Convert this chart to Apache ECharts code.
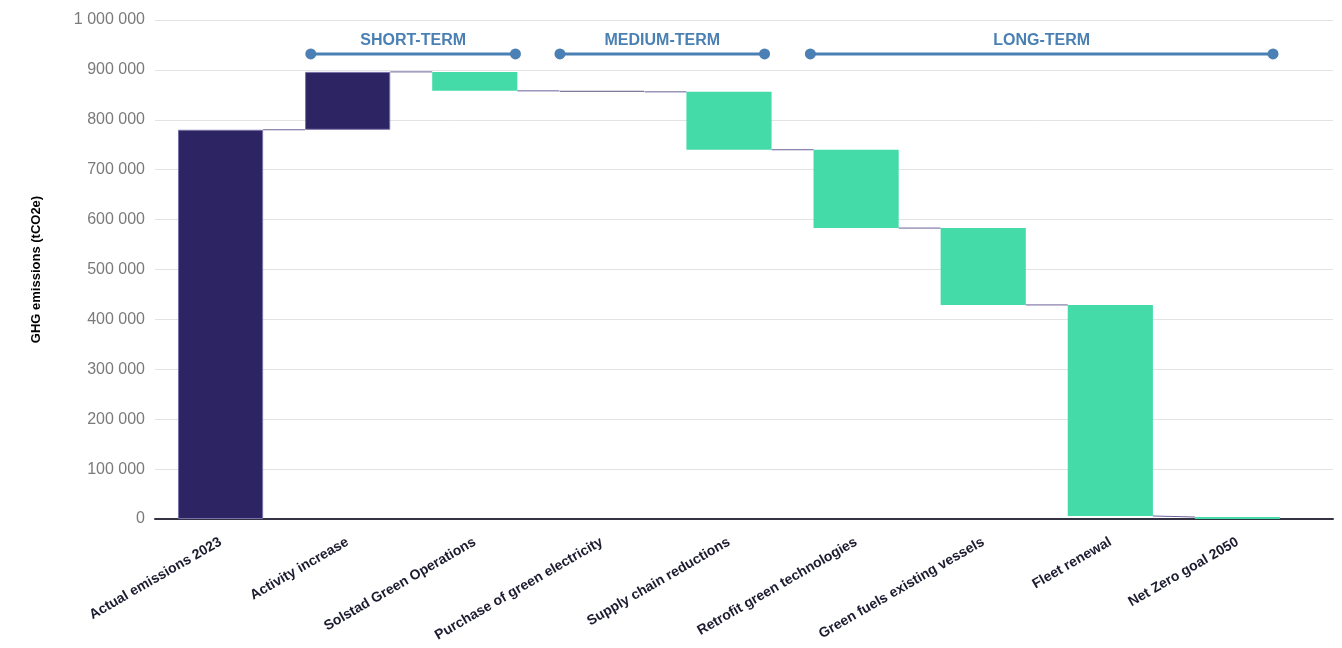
<!DOCTYPE html>
<html>
<head>
<meta charset="utf-8">
<script src="https://cdn.jsdelivr.net/npm/echarts@6/dist/echarts.min.js"></script>
<style>
html,body{margin:0;padding:0;background:#fff;}
#chart{width:1342px;height:648px;}
</style>
</head>
<body>
<div id="chart"></div>
<script>
const categories = [
  'Actual emissions 2023',
  'Activity increase',
  'Solstad Green Operations',
  'Purchase of green electricity',
  'Supply chain reductions',
  'Retrofit green technologies',
  'Green fuels existing vessels',
  'Fleet renewal',
  'Net Zero goal 2050'
];
const values = [780000, 116000, -38000, -2000, -116000, -157000, -154000, -423000, 4000];
const kinds = ['total', 'delta', 'delta', 'delta', 'delta', 'delta', 'delta', 'delta', 'goal'];

const phaseNames = ['SHORT-TERM', 'MEDIUM-TERM', 'LONG-TERM'];
const phaseStart = [0.71, 2.67, 4.64];
const phaseEnd = [2.32, 4.28, 8.28];
const phaseLineLevel = 932000;
const phaseLabelLevel = 959000;

const DARK = '#2c2463';
const GREEN = '#45dba8';
const PHASE = '#4a80b3';
const FONT = 'Liberation Sans, Arial, sans-serif';

const bases = [], heights = [], ends = [], entries = [], colors = [];
let run = 0;
values.forEach((v, i) => {
  if (kinds[i] === 'delta') {
    const s = run, e = run + v;
    bases.push(Math.min(s, e));
    heights.push(Math.abs(v));
    ends.push(e);
    entries.push(s);
    colors.push(v >= 0 ? DARK : GREEN);
    run = e;
  } else {
    bases.push(0);
    heights.push(v);
    ends.push(v);
    entries.push(v);
    colors.push(kinds[i] === 'goal' ? GREEN : DARK);
    run = v;
  }
});
const connectors = [];
for (let i = 0; i < values.length - 1; i++) connectors.push([i, ends[i], entries[i + 1]]);

const fmt = v => String(v).replace(/\B(?=(\d{3})+(?!\d))/g, ' ');

function barStyle(i) {
  if (colors[i] === DARK) return {color: DARK, borderColor: '#7a70aa', borderWidth: 1};
  if (kinds[i] === 'delta' && heights[i] < 10000) return {color: GREEN, borderColor: '#7a7898', borderWidth: 1};
  return {color: GREEN, borderWidth: 0};
}

const phaseSeries = phaseNames.map((n, k) => ({
  type: 'line',
  xAxisIndex: 1,
  yAxisIndex: 1,
  data: [[phaseStart[k], phaseLineLevel], [phaseEnd[k], phaseLineLevel]],
  symbol: 'circle',
  symbolSize: 11,
  lineStyle: {color: PHASE, width: 3},
  itemStyle: {color: PHASE},
  silent: true,
  z: 10
}));

const chart = echarts.init(document.getElementById('chart'));
chart.setOption({
  animation: false,
  grid: [
    {left: 155, right: 9, top: 20, bottom: 129},
    {left: 157, right: 41, top: 20, bottom: 129}
  ],
  xAxis: [{
    type: 'category',
    gridIndex: 1,
    data: categories,
    axisLine: {show: false},
    axisTick: {show: false},
    axisLabel: {
      rotate: 30,
      interval: 0,
      margin: 22,
      fontFamily: FONT,
      fontSize: 14,
      fontWeight: 'bold',
      color: '#1c1c30'
    }
  }, {
    type: 'value',
    gridIndex: 1,
    min: -0.5,
    max: 8.5,
    show: false
  }, {
    type: 'value',
    gridIndex: 0,
    min: 0,
    max: 1,
    axisLine: {show: true, onZero: false, lineStyle: {color: '#333344', width: 2}},
    axisTick: {show: false},
    axisLabel: {show: false},
    splitLine: {show: false}
  }],
  yAxis: [{
    type: 'value',
    gridIndex: 0,
    min: 0,
    max: 1000000,
    interval: 100000,
    name: 'GHG emissions (tCO2e)',
    nameLocation: 'middle',
    nameGap: 112,
    nameTextStyle: {fontFamily: FONT, fontSize: 13, fontWeight: 'bold', color: '#000'},
    axisLine: {show: false},
    axisTick: {show: false},
    splitLine: {lineStyle: {color: '#e3e3e3', width: 1}},
    axisLabel: {
      formatter: fmt,
      fontFamily: FONT,
      fontSize: 16,
      color: '#7a7a7a',
      margin: 10
    }
  }, {
    type: 'value',
    gridIndex: 1,
    min: 0,
    max: 1000000,
    interval: 100000,
    show: false
  }],
  series: [{
    type: 'bar',
    xAxisIndex: 0,
    yAxisIndex: 1,
    stack: 'w',
    data: bases,
    barWidth: '67%',
    itemStyle: {color: 'transparent'},
    silent: true
  }, {
    type: 'bar',
    xAxisIndex: 0,
    yAxisIndex: 1,
    stack: 'w',
    data: heights.map((h, i) => ({value: h, itemStyle: barStyle(i)})),
    barWidth: '67%'
  }, {
    type: 'custom',
    xAxisIndex: 0,
    yAxisIndex: 1,
    data: connectors,
    z: 5,
    silent: true,
    renderItem: (params, api) => {
      const p1 = api.coord([api.value(0), api.value(1)]);
      const p2 = api.coord([api.value(0) + 1, api.value(2)]);
      const bw = api.size([1, 0])[0] * 0.67;
      return {
        type: 'line',
        shape: {x1: p1[0] + bw / 2, y1: p1[1], x2: p2[0] - bw / 2, y2: p2[1]},
        style: {stroke: '#6c6199', lineWidth: 1}
      };
    }
  },
  ...phaseSeries,
  {
    type: 'scatter',
    xAxisIndex: 1,
    yAxisIndex: 1,
    symbolSize: 0,
    itemStyle: {color: PHASE, opacity: 1},
    silent: true,
    data: phaseNames.map((n, k) => ({value: [(phaseStart[k] + phaseEnd[k]) / 2, phaseLabelLevel], name: n})),
    label: {
      show: true,
      position: 'inside',
      formatter: p => p.name,
      fontFamily: FONT,
      fontSize: 16,
      fontWeight: 'bold',
      color: PHASE,
      opacity: 1
    },
    z: 10
  }]
});
</script>
</body>
</html>
